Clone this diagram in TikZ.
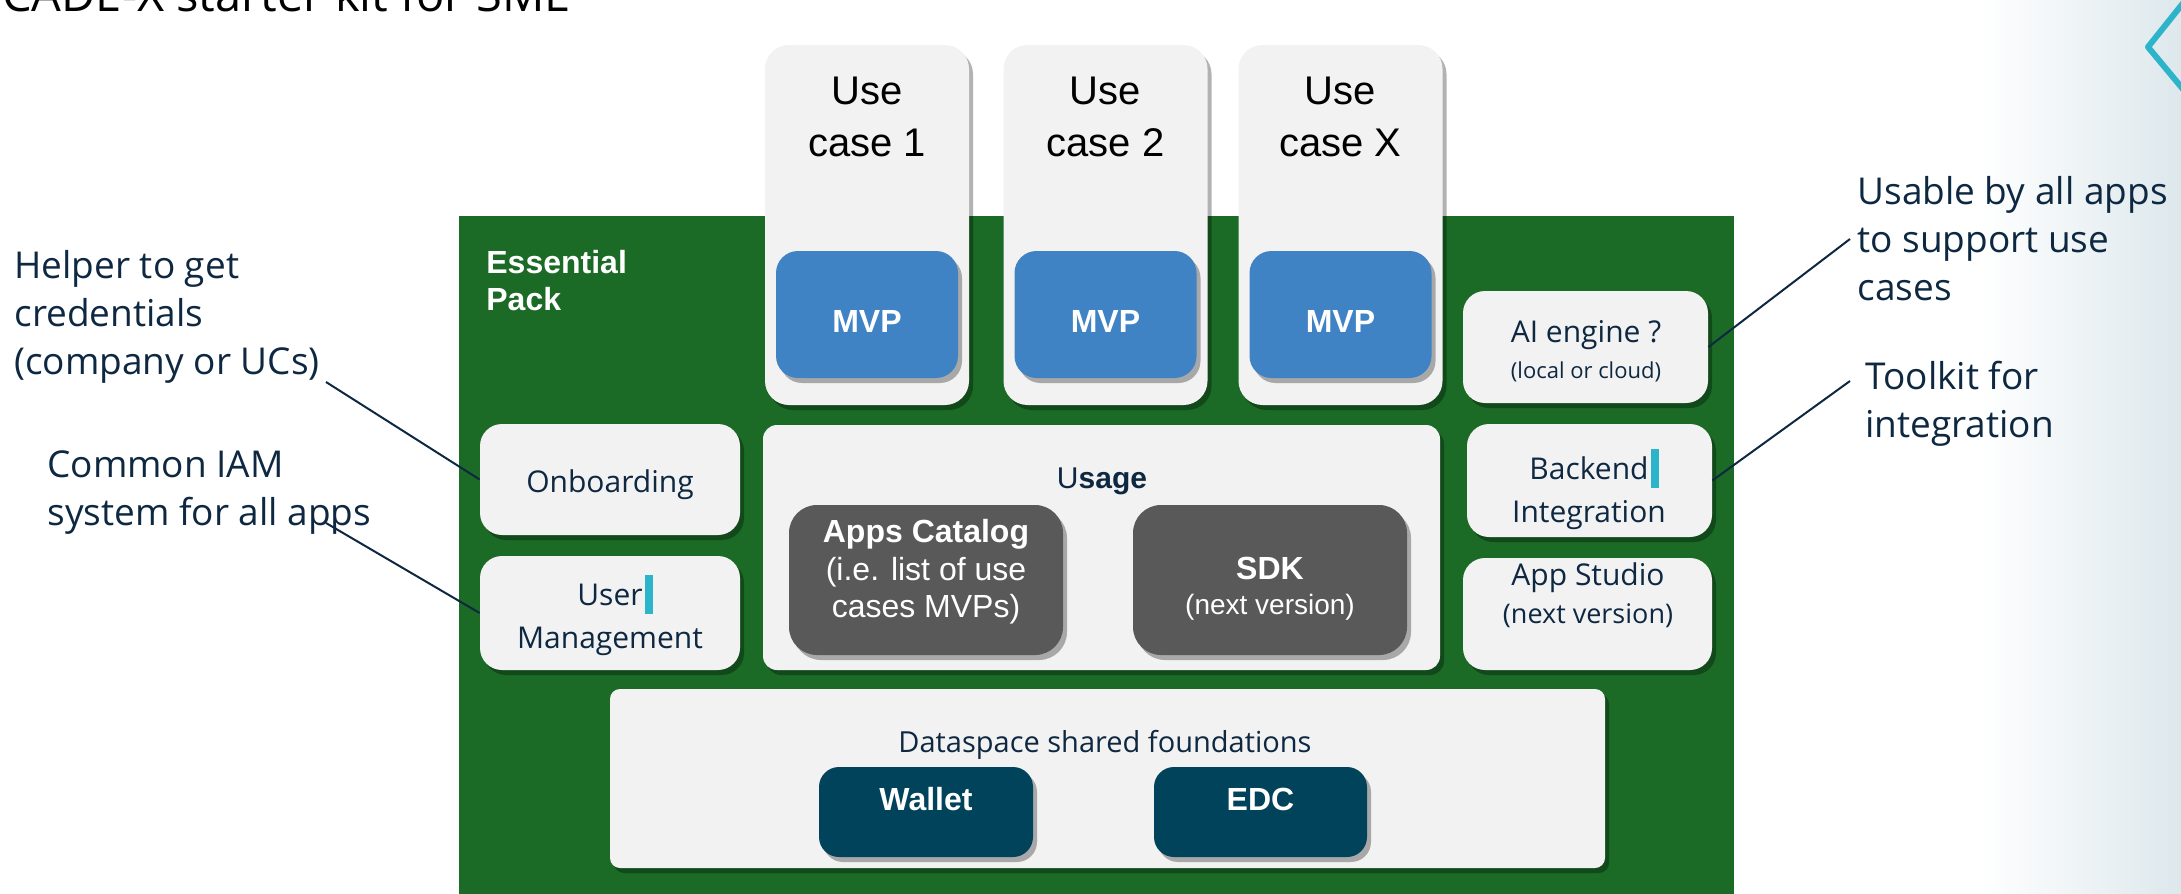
\documentclass[tikz,border=0pt]{standalone}
\usepackage{fontspec}
\setmainfont{Open Sans}
\newfontfamily\arialfont{Liberation Sans}
\usetikzlibrary{shadows}

\definecolor{packgreen}{RGB}{27,106,38}
\definecolor{tilegray}{RGB}{242,242,242}
\definecolor{mvpblue}{RGB}{63,131,197}
\definecolor{appgray}{RGB}{89,89,89}
\definecolor{dsteal}{RGB}{0,67,90}
\definecolor{inknavy}{RGB}{14,40,65}
\definecolor{cursorcyan}{RGB}{44,181,202}
\definecolor{slidetint}{RGB}{221,232,236}

\newcommand{\cursorbar}{\rlap{\hspace{1pt}\textcolor{cursorcyan}{\rule[-4.5pt]{4pt}{19.5pt}}}}

\tikzset{
  tile/.style={inner sep=0pt, fill=tilegray,
    drop shadow={shadow xshift=2pt, shadow yshift=-2.5pt, opacity=0.3, fill=black}},
  ucbox/.style={tile, rounded corners=12pt, minimum width=102pt, minimum height=180pt},
  mvpbox/.style={tile, fill=mvpblue, rounded corners=11pt, minimum width=91pt, minimum height=63.5pt},
  sidebox/.style={tile, rounded corners=11pt, minimum width=122.5pt, minimum height=56pt},
  appbox/.style={tile, fill=appgray, rounded corners=14pt, minimum width=137pt, minimum height=75pt},
  basebox/.style={tile, fill=dsteal, rounded corners=10pt, minimum width=107pt, minimum height=45pt},
  uctext/.style={inner sep=0pt, align=center, anchor=north, text=black, font={\arialfont\fontsize{20}{26}\selectfont}},
  whitebold/.style={inner sep=0pt, align=center, text=white, font={\arialfont\bfseries\fontsize{16}{18.75}\selectfont}},
  boxtext/.style={inner sep=0pt, align=center, text=inknavy, font={\fontsize{15}{19}\selectfont}},
  note/.style={inner sep=0pt, align=left, anchor=north west, text=inknavy, font={\fontsize{18.5}{24}\selectfont}},
  callout/.style={draw=inknavy, line width=1pt},
}

\begin{document}
\begin{tikzpicture}[x=0.5pt, y=-0.5pt]
\useasboundingbox (0,0) rectangle (2181,894);
\clip (0,0) rectangle (2181,894);

% slide backdrop
\shade[left color=white, right color=slidetint] (1980,0) rectangle (2181,894);
\draw[cursorcyan, line width=3pt, line join=round] (2192,-8) -- (2148,47) -- (2192,100);
\node[anchor=base east, inner sep=0pt, font={\fontsize{23.5}{28}\selectfont}] (title) at (571,11) {ECADE-X starter kit for SME};

% essential pack
\fill[packgreen] (459,216) rectangle (1734,894);
\node[whitebold, anchor=north west, align=left, font={\arialfont\bfseries\fontsize{16}{18.5}\selectfont}] (pack) at (486,250) {Essential\\Pack};

% use cases
\node[ucbox] (uc1) at (867,225) {};
\node[ucbox] (uc2) at (1105.5,225) {};
\node[ucbox] (uc3) at (1340.5,225) {};
\node[uctext] (uc1t) at (867,77) {Use\\case 1};
\node[uctext] (uc2t) at (1105.5,77) {Use\\case 2};
\node[uctext] (uc3t) at (1340.5,77) {Use\\case X};

\node[mvpbox] (mvp1) at (867,314.5) {};
\node[mvpbox] (mvp2) at (1105.5,314.5) {};
\node[mvpbox] (mvp3) at (1340.5,314.5) {};
\node[whitebold] (mvp1t) at (867,321.5) {MVP};
\node[whitebold] (mvp2t) at (1105.5,321.5) {MVP};
\node[whitebold] (mvp3t) at (1340.5,321.5) {MVP};

% left column
\node[sidebox, minimum width=130pt, minimum height=55.5pt] (onb) at (610,479.5) {};
\node[sidebox, minimum width=130pt, minimum height=57pt] (user) at (610,613) {};
\node[boxtext, anchor=base] (onbt) at (610,492) {Onboarding};
\node[boxtext, anchor=north, font={\fontsize{15}{21.5}\selectfont}] (usert) at (610,575) {User\cursorbar\\Management};

% usage
\node[tile, rounded corners=7pt, minimum width=338.5pt, minimum height=122.5pt] (usage) at (1101.5,547.5) {};
\node[anchor=base, inner sep=0pt, text=inknavy, font={\arialfont\fontsize{15}{18}\selectfont}] (usaget) at (1102,488) {U\textbf{sage}};
\node[appbox] (apps) at (926,580) {};
\node[appbox] (sdk) at (1270,580) {};
\node[whitebold, anchor=north] (appst) at (926,519) {Apps Catalog\\{\mdseries (i.e. list of use}\\{\mdseries cases MVPs)}};
\node[whitebold, anchor=north, font={\arialfont\bfseries\fontsize{16}{17.5}\selectfont}] (sdkt) at (1270,557) {SDK\\{\mdseries\fontsize{14}{17.5}\selectfont (next version)}};

% right column
\node[sidebox] (ai) at (1585.5,347) {};
\node[sidebox, minimum height=56.5pt] (back) at (1589.5,480.5) {};
\node[sidebox, minimum width=124.5pt] (studio) at (1587.5,614) {};
\node[boxtext, anchor=north, font={\fontsize{15}{18}\selectfont}] (ait) at (1586,320) {AI engine ?\\{\fontsize{11}{13}\selectfont (local or cloud)}};
\node[boxtext, anchor=north, font={\fontsize{15}{21.5}\selectfont}] (backt) at (1589,449) {Backend\cursorbar\\Integration};
\node[boxtext, anchor=north] (studiot) at (1588,562) {App Studio\\{\fontsize{13.5}{16}\selectfont (next version)}};

% foundations
\node[tile, rounded corners=5pt, minimum width=497.5pt, minimum height=89.5pt] (ds) at (1107.5,778.5) {};
\node[anchor=base, inner sep=0pt, text=inknavy, font={\fontsize{14.5}{18}\selectfont}] (dst) at (1105,752) {Dataspace shared foundations};
\node[basebox] (wallet) at (926,812) {};
\node[basebox, minimum width=106.5pt] (edc) at (1260.5,812) {};
\node[whitebold, anchor=base] (wallett) at (926,810) {Wallet};
\node[whitebold, anchor=base] (edct) at (1260.5,810) {EDC};

% notes
\node[note] (help) at (14,250) {Helper to get\\credentials\\(company or UCs)};
\node[note] (iam) at (47,450) {Common IAM\\system for all apps};
\node[note] (usable) at (1857,176) {Usable by all apps\\to support use\\cases};
\node[note] (toolkit) at (1865,361) {Toolkit for\\integration};

\coordinate (helptip) at (326,382);
\coordinate (iamtip) at (326,523);
\coordinate (usetip) at (1850,239);
\coordinate (tooltip) at (1850,381);
\draw[callout] (helptip) -- (onb.west);
\draw[callout] (iamtip) -- (user.west);
\draw[callout] (ai.east) -- (usetip);
\draw[callout] (back.east) -- (tooltip);
\end{tikzpicture}
\end{document}
